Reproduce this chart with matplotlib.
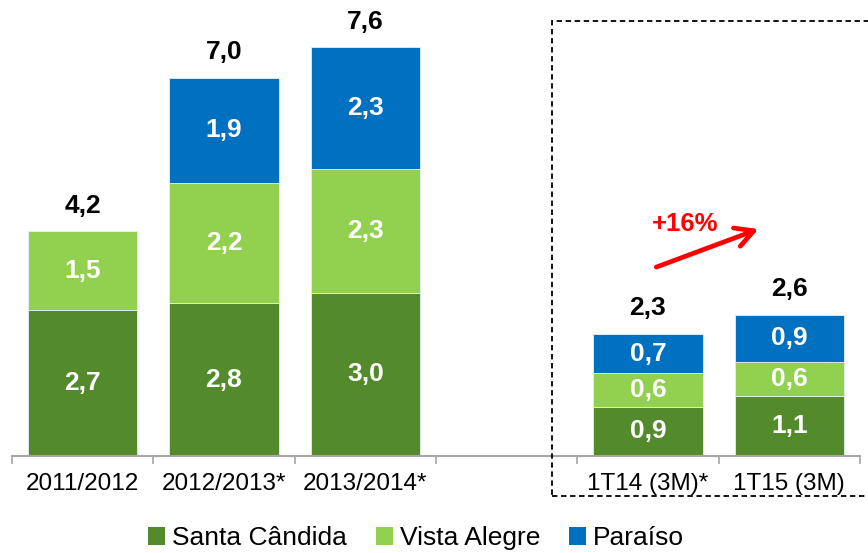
import matplotlib
matplotlib.use("Agg")
import matplotlib.pyplot as plt
from matplotlib.patches import Rectangle, Patch
import numpy as np

plt.rcParams['font.family'] = ['Liberation Sans', 'DejaVu Sans']

categories = ["2011/2012", "2012/2013*", "2013/2014*", "1T14 (3M)*", "1T15 (3M)"]
positions = [0, 1, 2, 4, 5]
santa_candida = [2.70, 2.83, 3.02, 0.91, 1.11]
vista_alegre = [1.46, 2.23, 2.29, 0.62, 0.64]
paraiso = [0.00, 1.94, 2.26, 0.73, 0.87]
series_names = ["Santa Cândida", "Vista Alegre", "Paraíso"]
colors = ["#538a2c", "#92d050", "#0070c0"]
growth_label = "+16%"

W, H = 868, 553
fig = plt.figure(figsize=(W / 100, H / 100), dpi=100)
base_px = 456
px_per_unit = 54.0
ax = fig.add_axes([12 / W, (H - base_px) / H, (860 - 12) / W, base_px / H])
ax.set_xlim(-0.5, 5.5)
ax.set_ylim(0, base_px / px_per_unit)

def fmt(v):
    return f"{v:.1f}".replace(".", ",")

bottoms = np.zeros(len(positions))
for name, vals, col in zip(series_names, [santa_candida, vista_alegre, paraiso], colors):
    vals = np.array(vals)
    ax.bar(positions, vals, bottom=bottoms, width=0.775, color=col,
           edgecolor="#e6eef5", linewidth=0.6, label=name, zorder=2)
    for x, b, v in zip(positions, bottoms, vals):
        if v > 0:
            ax.text(x, b + v / 2, fmt(v), ha="center", va="center", color="white",
                    fontsize=19, fontweight="bold", zorder=3)
    bottoms = bottoms + vals

for x, t in zip(positions, bottoms):
    ax.annotate(fmt(t), (x, t), xytext=(0, 18.5), textcoords="offset points",
                ha="center", va="center", fontsize=19, fontweight="bold", color="black")

for s in ["top", "right", "left"]:
    ax.spines[s].set_visible(False)
ax.spines["bottom"].set_color("#a6a6a6")
ax.spines["bottom"].set_linewidth(1.5)
ax.set_yticks([])
ax.set_xticks(np.arange(-0.5, 6.0, 1.0))
ax.set_xticklabels([])
ax.tick_params(axis="x", which="major", length=6, width=1.2, color="#a6a6a6", direction="out")
ax.set_xticks(positions, minor=True)
ax.set_xticklabels(categories, minor=True, fontsize=17.5)
ax.tick_params(axis="x", which="minor", length=0, pad=12)

# growth arrow
ax.annotate("", xy=(4.80, 4.22), xytext=(4.04, 3.48),
            arrowprops=dict(arrowstyle="->,head_length=1.3,head_width=0.7", color="#ff0000", lw=3.4))
ax.text(4.26, 4.30, growth_label, ha="center", va="center", color="#ff0000",
        fontsize=18.5, fontweight="bold")

# dashed box
rect = Rectangle((552 / W, 1 - 496 / H), (872 - 552) / W, (496 - 21) / H,
                 transform=fig.transFigure, fill=False, edgecolor="black",
                 linestyle=(0, (3, 2)), linewidth=1.3, clip_on=False)
fig.patches.append(rect)

handles = [Patch(facecolor=c, edgecolor="none") for c in colors]
fig.legend(handles, series_names, loc="center", bbox_to_anchor=(416 / W, 1 - 538 / H),
           ncol=3, frameon=False, fontsize=19, handlelength=0.65, handleheight=0.65,
           handletextpad=0.25, columnspacing=1.1, borderpad=0)

fig.savefig("out.png", dpi=100)
